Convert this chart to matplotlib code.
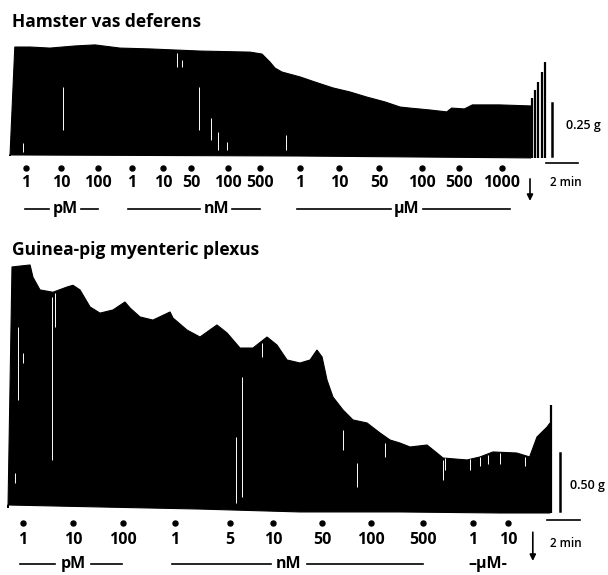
import matplotlib
matplotlib.use("Agg")
import matplotlib.pyplot as plt
import numpy as np

plt.rcParams['font.family'] = ['Open Sans', 'DejaVu Sans']

# ---- Hamster vas deferens (time in min, tension in g) ----
ham_top_t = [0.0, 0.3, 1.25, 2.5, 4.06, 5.31, 6.88, 8.75, 10.31, 11.88, 15.0, 15.75,
             16.25, 16.56, 17.0, 18.13, 19.06, 20.19, 21.25, 22.3, 23.44, 24.38,
             25.0, 26.25, 27.3, 27.6, 28.4, 28.9, 30.6, 32.56]
ham_top_g = [0.0, 0.514, 0.514, 0.509, 0.519, 0.524, 0.509, 0.505, 0.50, 0.495, 0.49,
             0.481, 0.443, 0.415, 0.396, 0.373, 0.349, 0.321, 0.302, 0.278, 0.255,
             0.231, 0.226, 0.217, 0.208, 0.226, 0.222, 0.241, 0.241, 0.236]
ham_base_t = [0.0, 18.0, 32.56]
ham_base_g = [0.005, 0.0, -0.009]
ham_spike_t = [32.63, 32.81, 33.0, 33.25, 33.44]
ham_spike_g = [0.274, 0.311, 0.349, 0.396, 0.443]
ham_gap_t = [0.81, 3.31, 10.44, 10.75, 11.81, 12.56, 13.0, 13.56, 17.25]
ham_gap_lo = [0.019, 0.123, 0.42, 0.42, 0.123, 0.075, 0.028, 0.028, 0.028]
ham_gap_hi = [0.061, 0.325, 0.486, 0.453, 0.325, 0.179, 0.113, 0.066, 0.099]
ham_dose_t = [1.0, 3.19, 5.5, 7.63, 9.56, 11.31, 13.63, 15.63, 18.13, 20.56, 23.06,
              25.75, 28.06, 30.75]
ham_dose_lbl = ['1', '10', '100', '1', '10', '50', '100', '500', '1', '10', '50',
                '100', '500', '1000']
ham_units = ['pM', 'nM', 'µM']
ham_unit_start = [0.94, 7.38, 17.94]
ham_unit_mid = [3.44, 12.88, 24.81]
ham_unit_end = [5.5, 15.63, 31.25]
ham_washout_t = 32.5

# ---- Guinea-pig myenteric plexus ----
gp_top_t = [0.0, 0.25, 1.38, 1.56, 2.0, 2.81, 3.69, 4.06, 4.5, 5.13, 5.75, 6.56, 7.31,
            7.63, 8.25, 9.06, 10.13, 10.31, 11.19, 12.0, 13.06, 13.69, 14.5, 15.31,
            16.19, 16.81, 17.44, 18.25, 18.88, 19.31, 19.63, 19.94, 20.31, 20.94,
            21.56, 22.44, 23.25, 23.88, 24.5, 25.13, 26.19, 26.81, 27.19, 28.69,
            29.5, 30.31, 31.8, 32.6, 33.06, 33.69, 33.88]
gp_top_g = [0.0, 2.078, 2.095, 1.99, 1.88, 1.86, 1.905, 1.92, 1.88, 1.733, 1.68, 1.707,
            1.776, 1.724, 1.647, 1.62, 1.69, 1.638, 1.534, 1.474, 1.578, 1.509, 1.379,
            1.379, 1.474, 1.405, 1.276, 1.25, 1.276, 1.362, 1.302, 1.103, 0.957, 0.845,
            0.759, 0.733, 0.647, 0.586, 0.56, 0.526, 0.543, 0.474, 0.431, 0.414, 0.44,
            0.483, 0.474, 0.44, 0.612, 0.698, 0.733]
gp_base_t = [0.0, 5.75, 12.0, 18.25, 24.5, 30.75, 33.88]
gp_base_g = [0.026, 0.009, -0.009, -0.034, -0.034, -0.043, -0.043]
gp_spike_t = [33.94]
gp_spike_g = [0.888]
gp_gap_t = [0.44, 0.63, 0.94, 2.75, 2.94, 14.25, 14.63, 15.88, 20.94, 21.81, 23.56,
            27.19, 27.3, 28.9, 29.5, 30.0, 30.75, 32.3]
gp_gap_lo = [0.216, 0.931, 1.25, 0.414, 1.56, 0.043, 0.095, 1.30, 0.50, 0.181, 0.44,
             0.241, 0.33, 0.33, 0.36, 0.38, 0.38, 0.36]
gp_gap_hi = [0.302, 1.56, 1.336, 1.819, 1.853, 0.612, 1.129, 1.42, 0.672, 0.388, 0.56,
             0.414, 0.43, 0.42, 0.44, 0.46, 0.47, 0.44]
gp_dose_t = [0.94, 4.06, 7.19, 10.44, 13.88, 16.56, 19.63, 22.69, 25.94, 29.06, 31.25]
gp_dose_lbl = ['1', '10', '100', '1', '5', '10', '50', '100', '500', '1', '10']
gp_units = ['pM', 'nM']
gp_unit_start = [0.75, 10.25]
gp_unit_mid = [4.06, 17.56]
gp_unit_end = [7.13, 25.94]
gp_um_t = 30.0
gp_washout_t = 32.8

W, H = 608, 575
fig = plt.figure(figsize=(W / 100, H / 100), dpi=100)
fig.patch.set_facecolor('white')

# top panel occupies pixel rows 0-230, bottom 230-575
ax1 = fig.add_axes([0, 345 / H, 1, 230 / H])
ax2 = fig.add_axes([0, 0, 1, 345 / H])
ax1.set_xlim(-10 / 16, 598 / 16)
ax1.set_ylim(-74 / 212, 156 / 212)
ax2.set_xlim(-8 / 16, 600 / 16)
ax2.set_ylim(-67 / 116, 278 / 116)
for ax in (ax1, ax2):
    ax.axis('off')


def draw_trace(ax, top_t, top_g, base_t, base_g, spike_t, spike_g,
               gap_t, gap_lo, gap_hi):
    xs = np.r_[top_t, base_t[::-1]]
    ys = np.r_[top_g, base_g[::-1]]
    ax.fill(xs, ys, color='black', lw=0.8, ec='black')
    ax.vlines(spike_t, base_g[-1], spike_g, color='black', lw=1.6)
    ax.vlines(gap_t, gap_lo, gap_hi, color='white', lw=0.7)


def draw_doses(ax, dose_t, labels, dot_y, lbl_y):
    ax.plot(dose_t, [dot_y] * len(dose_t), 'o', color='black', ms=3.6)
    for t, s in zip(dose_t, labels):
        ax.text(t, lbl_y, s, ha='center', va='center', fontsize=11.5,
                fontweight='bold')


def draw_units(ax, units, starts, mids, ends, y, half):
    for u, s, m, e in zip(units, starts, mids, ends):
        ax.plot([s, m - half], [y, y], color='black', lw=1.2)
        ax.plot([m + half, e], [y, y], color='black', lw=1.2)
        ax.text(m, y, u, ha='center', va='center', fontsize=11.5,
                fontweight='bold')


# ---- top panel ----
ax1.text(0.125, 0.632, 'Hamster vas deferens', ha='left', va='center',
         fontsize=12.5, fontweight='bold')
draw_trace(ax1, np.array(ham_top_t), np.array(ham_top_g), np.array(ham_base_t),
           np.array(ham_base_g), ham_spike_t, ham_spike_g,
           ham_gap_t, ham_gap_lo, ham_gap_hi)
draw_doses(ax1, ham_dose_t, ham_dose_lbl, -0.057, -0.127)
draw_units(ax1, ham_units, ham_unit_start, ham_unit_mid, ham_unit_end, -0.25, 1.0)
ax1.annotate('', xy=(ham_washout_t, -0.225), xytext=(ham_washout_t, -0.095),
             arrowprops=dict(arrowstyle='-|>', color='black', lw=1.2,
                             mutation_scale=9))
# scale bars
ax1.plot([33.875, 33.875], [0.0, 0.25], color='black', lw=1.8)
ax1.text(34.75, 0.146, '0.25 g', ha='left', va='center', fontsize=9,
         fontweight='semibold')
ax1.plot([33.5, 35.5], [-0.033, -0.033], color='black', lw=1.2)
ax1.text(34.75, -0.123, '2 min', ha='center', va='center', fontsize=8.5,
         fontweight='semibold')

# ---- bottom panel ----
ax2.text(0.25, 2.224, 'Guinea-pig myenteric plexus', ha='left', va='center',
         fontsize=12.5, fontweight='bold')
draw_trace(ax2, np.array(gp_top_t), np.array(gp_top_g), np.array(gp_base_t),
           np.array(gp_base_g), gp_spike_t, gp_spike_g,
           gp_gap_t, gp_gap_lo, gp_gap_hi)
draw_doses(ax2, gp_dose_t, gp_dose_lbl, -0.129, -0.276)
draw_units(ax2, gp_units, gp_unit_start, gp_unit_mid, gp_unit_end, -0.483, 1.1)
ax2.text(gp_um_t, -0.483, '–µM-', ha='center', va='center', fontsize=11.5,
         fontweight='bold')
ax2.annotate('', xy=(gp_washout_t, -0.48), xytext=(gp_washout_t, -0.185),
             arrowprops=dict(arrowstyle='-|>', color='black', lw=1.2,
                             mutation_scale=9))
ax2.plot([34.5, 34.5], [-0.03, 0.47], color='black', lw=1.8)
ax2.text(35.1, 0.198, '0.50 g', ha='left', va='center', fontsize=9,
         fontweight='semibold')
ax2.plot([33.69, 35.75], [-0.103, -0.103], color='black', lw=1.2)
ax2.text(34.875, -0.302, '2 min', ha='center', va='center', fontsize=8.5,
         fontweight='semibold')

fig.savefig('out.png', dpi=100)
